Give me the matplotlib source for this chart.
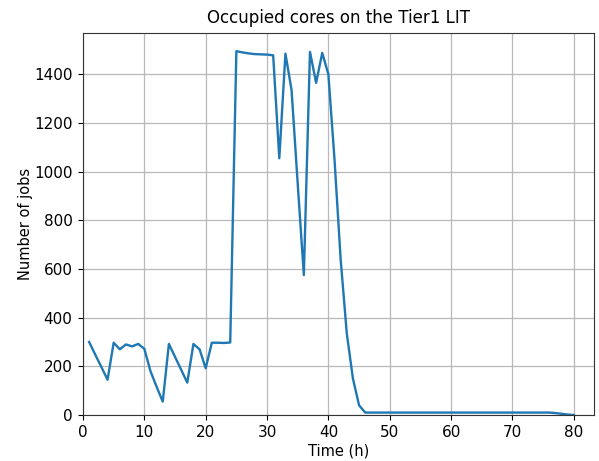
import matplotlib
matplotlib.use("Agg")
import matplotlib.pyplot as plt

# Hourly samples of occupied cores
hours = list(range(1, 81))
jobs = [
    300, 248, 197, 145, 297, 270, 290, 282, 292, 272,
    180, 116, 55, 292, 239, 186, 133, 292, 270, 192,
    297, 297, 296, 298, 1495, 1490, 1486, 1483, 1482, 1481,
    1478, 1055, 1485, 1335, 950, 575, 1492, 1365, 1488, 1400,
    1050, 640, 335, 150, 40, 10, 10, 10, 10, 10,
    10, 10, 10, 10, 10, 10, 10, 10, 10, 10,
    10, 10, 10, 10, 10, 10, 10, 10, 10, 10,
    10, 10, 10, 10, 10, 10, 8, 5, 2, 0,
]

title = "Occupied cores on the Tier1 LIT"
xlabel = "Time (h)"
ylabel = "Number of jobs"

W, H = 599, 461
fig = plt.figure(figsize=(W / 100, H / 100), dpi=100)
ax = fig.add_axes([83 / W, (H - 415) / H, (594 - 83) / W, (415 - 33) / H])

ax.plot(hours, jobs, color="#1f77b4", linewidth=1.7)
ax.set_xlim(0, 83.3)
ax.set_ylim(bottom=0)
ax.grid(True, color="#b8b8b8", linewidth=0.9)
ax.set_axisbelow(True)
for sp in ax.spines.values():
    sp.set_color("#333333")

ax.set_title(title, fontsize=12, pad=7)
ax.set_xlabel(xlabel, fontsize=10.5, labelpad=2)
ax.set_ylabel(ylabel, fontsize=10.5, labelpad=1)
ax.tick_params(labelsize=11, pad=4)

fig.savefig("out.png", dpi=100)
